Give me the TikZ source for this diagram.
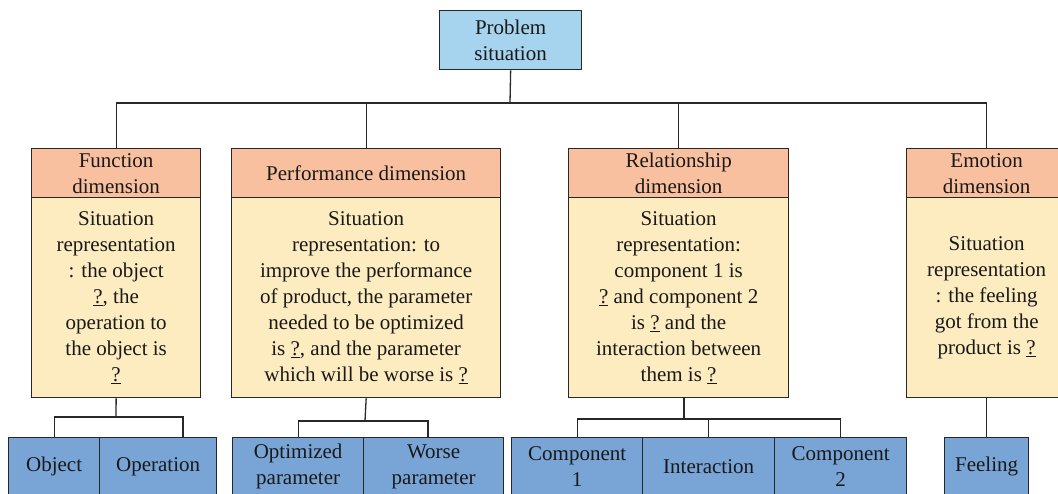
\documentclass[tikz,border=0pt]{standalone}
\usepackage{fontspec}
\setmainfont{Liberation Serif}
\newfontfamily\diagfont{Liberation Serif}
\usetikzlibrary{calc}
\definecolor{hdr}{RGB}{249,192,160}
\definecolor{bdy}{RGB}{253,236,192}
\definecolor{leaf}{RGB}{121,164,214}
\definecolor{topc}{RGB}{166,211,237}
\definecolor{ln}{RGB}{40,40,40}
\newcommand{\q}{\underline{?}}
\begin{document}
\begin{tikzpicture}[x=1pt,y=-1pt,
  every node/.style={font=\diagfont\fontsize{21}{26}\selectfont, text=black!90, inner sep=0pt, align=center, anchor=north west, draw=ln, line width=1.3pt},
  hdrbox/.style={fill=hdr, minimum height=49pt},
  bdybox/.style={fill=bdy, minimum height=200pt},
  leafbox/.style={fill=leaf, minimum height=58pt},
  topbox/.style={fill=topc},
  conn/.style={draw=ln, line width=1.3pt}]
\clip (0,0) rectangle (1058,493);
\fill[white] (0,0) rectangle (1058,493);
% top
\node[topbox, minimum width=142pt, minimum height=59pt] (ps) at (439,10) {Problem\\situation};
% headers
\node[hdrbox, minimum width=169pt] (fh) at (31,148) {Function\\dimension};
\node[hdrbox, minimum width=269pt] (ph) at (231,148) {Performance dimension};
\node[hdrbox, minimum width=220pt] (rh) at (568,148) {Relationship\\dimension};
\node[hdrbox, minimum width=160pt] (eh) at (906,148) {Emotion\\dimension};
% bodies
\node[bdybox, minimum width=169pt] (fb) at (31,197) {Situation\\representation\\: the object\\\q, the\\operation to\\the object is\\\q};
\node[bdybox, minimum width=269pt] (pb) at (231,197) {Situation\\representation: to\\improve the performance\\of product, the parameter\\needed to be optimized\\is \q, and the parameter\\which will be worse is \q};
\node[bdybox, minimum width=220pt] (rb) at (568,197) {Situation\\representation:\\component 1 is\\\q{} and component 2\\is \q{} and the\\interaction between\\them is \q};
\node[bdybox, minimum width=160pt] (eb) at (906,197) {Situation\\representation\\: the feeling\\got from the\\product is \q};
% leaves
\node[leafbox, minimum width=91pt] (obj) at (8,437) {Object};
\node[leafbox, minimum width=117pt] (op) at (99,437) {Operation};
\node[leafbox, minimum width=131pt] (opt) at (232,437) {Optimized\\parameter};
\node[leafbox, minimum width=140pt] (wor) at (363,437) {Worse\\parameter};
\node[leafbox, minimum width=131pt] (c1) at (511,437) {Component\\1};
\node[leafbox, minimum width=132pt] (int) at (642,437) {Interaction};
\node[leafbox, minimum width=132pt] (c2) at (774,437) {Component\\2};
\node[leafbox, minimum width=84pt] (fee) at (944,437) {Feeling};
% top connectors
\coordinate (bar) at (510,103);
\draw[conn] (ps.south) -- (bar);
\draw[conn] (fh.north) -- (fh.north |- bar) -- (eh.north |- bar) -- (eh.north);
\draw[conn] (ph.north) -- (ph.north |- bar);
\draw[conn] (rh.north) -- (rh.north |- bar);
% function
\coordinate (fbar) at (116,417);
\coordinate (opc) at ($(op.north west)!0.71!(op.north east)$);
\draw[conn] (fb.south) -- (fbar);
\draw[conn] (obj.north) -- (obj.north |- fbar) -- (opc |- fbar) -- (opc);
% performance
\coordinate (pbar) at (365,421);
\coordinate (worc) at ($(wor.north west)!0.46!(wor.north east)$);
\draw[conn] (pb.south) -- (pbar);
\draw[conn] (opt.north) -- (opt.north |- pbar) -- (worc |- pbar) -- (worc);
% relationship
\coordinate (rbar) at (684,419);
\draw[conn] (rb.south -| rbar) -- (rbar);
\draw[conn] (c1.north) -- (c1.north |- rbar) -- (c2.north |- rbar) -- (c2.north);
\draw[conn] (int.north) -- (int.north |- rbar);
% emotion
\draw[conn] (eb.south) -- (fee.north);
\end{tikzpicture}
\end{document}
